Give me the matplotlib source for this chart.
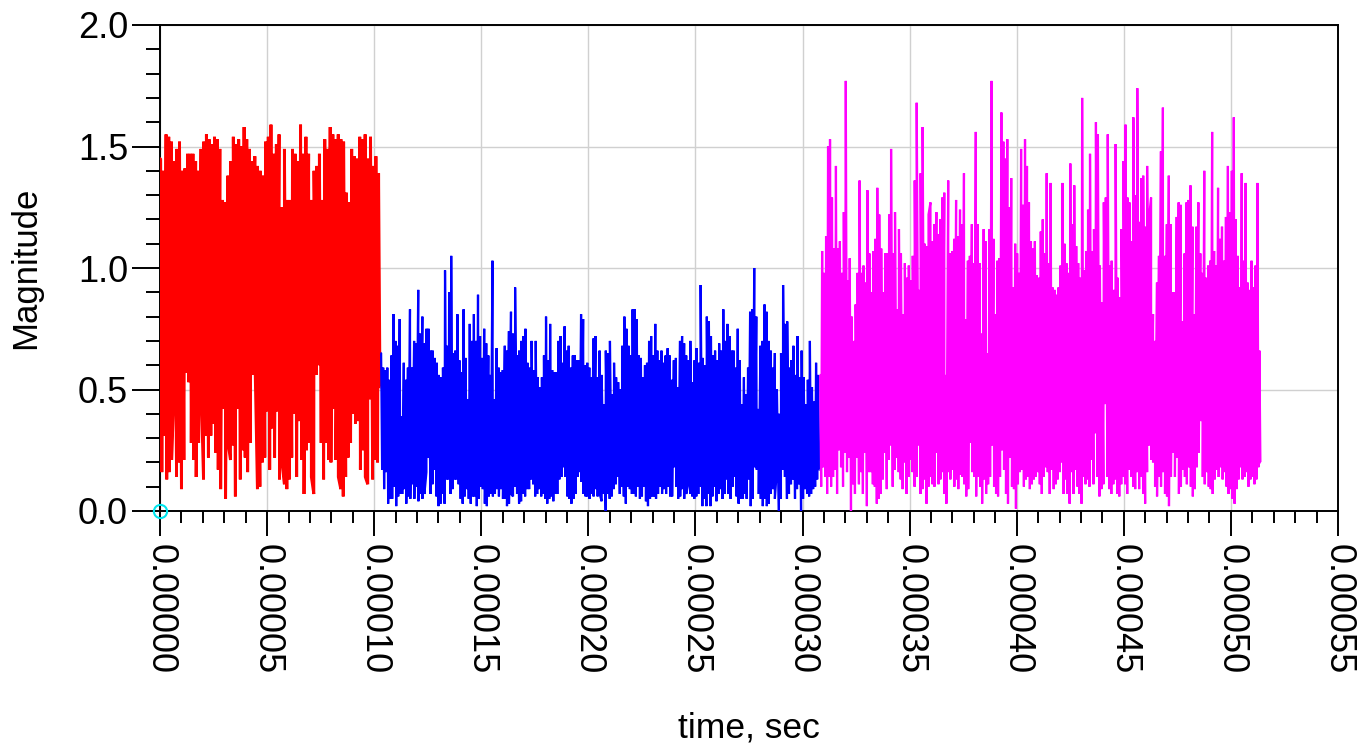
import numpy as np
import matplotlib
matplotlib.use("Agg")
import matplotlib.pyplot as plt
from matplotlib.ticker import MultipleLocator, FormatStrFormatter

# ---------------- data ----------------
seg_bounds = [0.0, 0.000103, 0.000308, 0.000514]   # segment start/end times, sec
seg_colors = ["#FF0000", "#0000FF", "#FF00FF"]

red_hi = [1.45,1.40,1.55,1.54,1.52,1.44,1.49,1.52,1.40,1.41,1.47,1.47,1.47,1.44,1.40,1.49,1.52,1.55,1.53,1.51,
          1.54,1.53,1.49,1.28,1.27,1.38,1.44,1.54,1.51,1.53,1.50,1.58,1.53,1.49,1.44,1.46,1.42,1.40,1.38,1.52,
          1.54,1.59,1.47,1.51,1.55,1.25,1.49,1.28,1.28,1.49,1.47,1.44,1.59,1.47,1.54,1.47,1.28,1.40,1.42,1.47,
          1.28,1.53,1.49,1.58,1.55,1.53,1.55,1.53,1.52,1.31,1.27,1.49,1.46,1.45,1.54,1.53,1.55,1.45,1.54,1.42,
          1.46,1.39]
red_lo = [0.16,0.31,0.13,0.16,0.21,0.51,0.14,0.20,0.09,0.21,0.57,0.53,0.28,0.21,0.14,0.28,0.51,0.13,0.31,0.22,
          0.31,0.36,0.24,0.17,0.09,0.42,0.05,0.28,0.21,0.27,0.06,0.42,0.13,0.25,0.22,0.16,0.28,0.56,0.62,0.09,
          0.10,0.20,0.22,0.41,0.17,0.34,0.22,0.41,0.13,0.20,0.11,0.09,0.13,0.22,0.40,0.14,0.37,0.21,0.07,0.25,
          0.28,0.14,0.07,0.56,0.60,0.28,0.13,0.28,0.21,0.20,0.42,0.21,0.14,0.09,0.06,0.14,0.22,0.28,0.40,0.36,
          0.37,0.17,0.25,0.14,0.11,0.46,0.13,0.21,0.20,0.51]

blue_hi = [0.65,0.59,0.58,0.59,0.54,0.64,0.81,0.70,0.68,0.79,0.39,0.61,0.54,0.59,0.83,0.59,0.70,0.69,0.91,0.73,
           0.80,0.69,0.75,0.75,0.66,0.66,0.63,0.61,0.56,0.55,0.59,0.99,0.68,0.90,1.05,0.65,0.66,0.81,0.62,0.57,
           0.83,0.63,0.46,0.77,0.70,0.81,0.70,0.89,0.72,0.63,0.75,0.69,0.64,0.56,1.03,0.46,0.67,0.59,0.57,0.58,
           0.68,0.66,0.74,0.82,0.73,0.92,0.64,0.66,0.70,0.72,0.75,0.61,0.59,0.70,0.58,0.70,0.55,0.51,0.55,0.64,
           0.80,0.62,0.77,0.58,0.57,0.57,0.70,0.72,0.61,0.76,0.66,0.68,0.59,0.64,0.64,0.62,0.62,0.81,0.79,0.60,
           0.61,0.59,
           0.55,0.71,0.72,0.55,0.66,0.56,0.44,0.66,0.65,0.70,0.48,0.61,0.55,0.53,0.50,0.68,0.80,0.75,0.68,0.64,
           0.83,0.83,0.79,0.64,0.63,0.55,0.60,0.61,0.70,0.72,0.64,0.77,0.66,0.62,0.66,0.61,0.64,0.67,0.64,0.54,
           0.62,0.63,0.51,0.70,0.72,0.69,0.64,0.62,0.70,0.53,0.62,0.67,0.61,0.93,0.63,0.60,0.80,0.78,0.72,0.64,
           0.66,0.62,0.69,0.66,0.83,0.70,0.77,0.72,0.66,0.66,0.59,0.75,0.62,0.44,0.55,0.48,0.59,0.82,0.83,1.00,
           0.80,0.42,0.68,0.70,0.85,0.82,0.70,0.66,0.59,0.65,0.50,0.40,0.65,0.93,0.77,0.78,0.59,0.62,0.68,0.56,
           0.72,0.55,0.66,0.55,0.44,0.54,0.70,0.51,0.45,0.61,0.56]
blue_lo = [0.17,0.09,0.16,0.03,0.05,0.05,0.10,0.02,0.06,0.07,0.07,0.09,0.03,0.06,0.05,0.11,0.05,0.10,0.04,0.07,
           0.05,0.07,0.16,0.22,0.07,0.11,0.17,0.06,0.02,0.03,0.07,0.03,0.13,0.13,0.07,0.09,0.13,0.13,0.11,0.05,
           0.03,0.06,0.09,0.05,0.03,0.06,0.06,0.02,0.05,0.10,0.09,0.03,0.02,0.06,0.07,0.06,0.07,0.09,0.06,0.09,
           0.05,0.05,0.02,0.03,0.07,0.06,0.10,0.07,0.03,0.04,0.07,0.06,0.09,0.09,0.13,0.11,0.06,0.07,0.09,0.06,
           0.07,0.05,0.03,0.05,0.06,0.04,0.07,0.07,0.13,0.14,0.18,0.14,0.06,0.05,0.03,0.05,0.07,0.14,0.16,0.12,
           0.07,0.06,0.06,0.05,0.07,0.06,0.09,
           0.06,0.07,0.04,0.07,0.00,0.07,0.05,0.06,0.09,0.11,0.14,0.07,0.10,0.06,0.03,0.10,0.09,0.07,0.07,0.06,
           0.10,0.05,0.06,0.10,0.04,0.02,0.05,0.06,0.06,0.05,0.07,0.10,0.07,0.09,0.07,0.10,0.06,0.06,0.18,0.10,
           0.05,0.06,0.09,0.05,0.07,0.11,0.07,0.06,0.05,0.06,0.07,0.10,0.02,0.05,0.02,0.07,0.02,0.06,0.10,0.04,
           0.07,0.09,0.05,0.07,0.13,0.07,0.05,0.10,0.14,0.06,0.03,0.05,0.05,0.07,0.05,0.13,0.02,0.05,0.18,0.17,
           0.07,0.05,0.02,0.05,0.02,0.03,0.07,0.09,0.05,0.17,0.00,0.05,0.17,0.14,0.05,0.07,0.11,0.13,0.05,0.09,
           0.11,0.00,0.05,0.09,0.07,0.06,0.07,0.09,0.10,0.13,0.17]

magenta_hi = [0.56,1.07,0.98,1.13,1.50,1.53,1.29,1.08,1.42,1.08,1.11,0.98,1.23,1.77,0.95,1.04,0.80,0.70,0.85,0.98,
              1.36,0.98,1.01,0.94,1.32,1.06,0.90,1.07,1.12,1.33,1.22,1.08,0.90,1.06,1.06,1.22,1.49,1.06,1.23,0.83,
              1.16,1.06,0.81,1.02,0.96,1.01,0.95,1.05,1.36,1.68,0.91,1.39,1.58,1.10,1.09,1.22,1.27,1.11,1.18,1.23,
              1.14,1.20,1.29,1.31,0.56,1.36,1.06,1.07,1.12,1.28,1.13,1.24,1.18,1.39,0.79,1.03,1.05,1.18,1.02,1.56,
              1.18,1.02,0.73,1.16,1.11,0.65,1.16,1.77,1.12,0.81,1.03,1.04,1.64,1.52,1.45,1.53,1.25,1.37,0.92,1.10,
              1.06,0.98,1.49,1.26,1.53,1.42,1.27,1.11,1.08,1.11,0.97,
              0.96,1.15,1.20,1.06,1.39,1.02,1.35,0.92,0.91,0.89,0.92,1.01,1.35,1.10,1.02,0.98,1.43,1.18,1.34,1.09,
              1.02,0.96,1.70,0.99,1.07,1.24,1.47,1.07,1.16,1.60,1.55,1.01,0.86,1.27,1.29,1.55,1.01,1.03,0.91,1.51,
              0.96,0.88,1.16,1.44,1.59,1.29,1.27,1.11,1.62,1.30,1.74,1.19,1.37,1.38,1.17,1.42,1.21,1.29,0.81,0.70,
              0.94,1.05,1.48,1.66,1.05,1.18,1.38,1.18,0.90,0.90,1.21,1.27,1.26,0.78,1.06,1.27,1.28,1.34,1.17,0.81,
              1.17,1.27,1.06,0.98,1.40,0.96,1.01,1.03,1.56,1.07,1.01,1.33,1.12,1.17,1.03,1.21,1.42,1.23,1.40,1.62,
              1.20,1.05,0.92,1.39,1.03,1.35,0.94,0.91,1.03,0.92,1.01,1.35,0.66]
magenta_lo = [0.10,0.18,0.14,0.07,0.14,0.10,0.14,0.17,0.07,0.25,0.18,0.10,0.24,0.16,0.22,0.00,0.11,0.07,0.22,0.11,
              0.16,0.07,0.24,0.02,0.16,0.16,0.11,0.10,0.03,0.05,0.07,0.13,0.24,0.09,0.21,0.27,0.10,0.17,0.22,0.16,
              0.13,0.09,0.20,0.07,0.14,0.21,0.16,0.10,0.14,0.27,0.07,0.09,0.13,0.03,0.10,0.14,0.11,0.10,0.24,0.11,
              0.13,0.16,0.07,0.03,0.16,0.13,0.17,0.10,0.13,0.09,0.15,0.14,0.11,0.06,0.09,0.28,0.16,0.14,0.06,0.14,
              0.10,0.03,0.13,0.07,0.11,0.14,0.27,0.10,0.07,0.06,0.14,0.25,0.17,0.07,0.03,0.22,0.10,0.09,0.01,0.11,
              0.16,0.17,0.10,0.13,0.14,0.09,0.11,0.13,0.14,0.16,
              0.11,0.07,0.14,0.18,0.16,0.07,0.17,0.09,0.11,0.13,0.16,0.20,0.07,0.13,0.07,0.03,0.16,0.07,0.17,0.10,
              0.07,0.03,0.14,0.11,0.13,0.10,0.21,0.11,0.32,0.14,0.06,0.09,0.11,0.44,0.14,0.09,0.07,0.11,0.13,0.07,
              0.06,0.11,0.14,0.11,0.07,0.17,0.14,0.10,0.09,0.16,0.09,0.14,0.07,0.03,0.16,0.27,0.21,0.20,0.10,0.06,
              0.14,0.10,0.16,0.07,0.06,0.02,0.14,0.24,0.14,0.22,0.07,0.10,0.17,0.14,0.11,0.18,0.10,0.06,0.09,0.18,
              0.24,0.37,0.14,0.11,0.16,0.10,0.09,0.07,0.13,0.17,0.14,0.18,0.13,0.16,0.10,0.07,0.09,0.05,0.03,0.09,
              0.13,0.18,0.13,0.14,0.16,0.10,0.13,0.14,0.11,0.13,0.18,0.20]

marker_time = [0.0]
marker_value = [0.0]

x_ticks = [0.0, 0.00005, 0.00010, 0.00015, 0.00020, 0.00025, 0.00030, 0.00035, 0.00040, 0.00045, 0.00050, 0.00055]
y_ticks = [0.0, 0.5, 1.0, 1.5, 2.0]

# ---------------- figure ----------------
plt.rcParams['font.family'] = ['Liberation Sans', 'DejaVu Sans']

fig = plt.figure(figsize=(13.69, 7.46), dpi=100)
ax = fig.add_axes([160/1369, 1 - 511/746, 1178/1369, 486/746])

seg_lw = [2.1, 1.6, 1.6]
segments = [(red_hi, red_lo), (blue_hi, blue_lo), (magenta_hi, magenta_lo)]
for i, (hi, lo) in enumerate(segments):
    t0, t1 = seg_bounds[i], seg_bounds[i + 1]
    hi = np.asarray(hi); lo = np.asarray(lo)
    th = t0 + (np.arange(len(hi)) + 0.25) / len(hi) * (t1 - t0)
    tl = t0 + (np.arange(len(lo)) + 0.75) / len(lo) * (t1 - t0)
    t = np.concatenate([[t0], th, tl, [t1]])
    v = np.concatenate([[hi[0]], hi, lo, [lo[-1]]])
    order = np.argsort(t, kind="stable")
    ax.plot(t[order], v[order], color=seg_colors[i], lw=seg_lw[i],
            solid_joinstyle="bevel", solid_capstyle="butt", zorder=3)

ax.plot(marker_time, marker_value, marker='o', ms=9.5, mfc='none', mec='#00E5EE', mew=1.5,
        clip_on=False, zorder=6, linestyle='none')

ax.set_xlim(0, 0.00055)
ax.set_ylim(0, 2.0)
ax.set_xticks(x_ticks)
ax.set_yticks(y_ticks)
ax.xaxis.set_minor_locator(MultipleLocator(0.00001))
ax.yaxis.set_minor_locator(MultipleLocator(0.1))
ax.xaxis.set_major_formatter(FormatStrFormatter('%.5f'))
ax.yaxis.set_major_formatter(FormatStrFormatter('%.1f'))

ax.grid(True, which='major', color='#D0D0D0', lw=1.0, zorder=0)
ax.set_axisbelow(True)

for s in ax.spines.values():
    s.set_color('black')
    s.set_linewidth(1.4)

ax.tick_params(axis='x', which='major', direction='out', length=18, width=1.4, pad=6,
               labelsize=26, labelrotation=270, colors='black')
ax.tick_params(axis='x', which='minor', direction='out', length=8.6, width=1.4)
ax.tick_params(axis='y', which='major', direction='out', length=20, width=1.4, pad=3,
               labelsize=26, colors='black')
ax.tick_params(axis='y', which='minor', direction='out', length=10, width=1.4)

ax.set_xlabel('time, sec', fontsize=25.5)
ax.set_ylabel('Magnitude', fontsize=25)
ax.xaxis.set_label_coords(0.5, -0.413)
ax.xaxis.label.set_va('top')
ax.yaxis.set_label_coords(-0.100, 0.5)

fig.savefig('out.png', dpi=100)
